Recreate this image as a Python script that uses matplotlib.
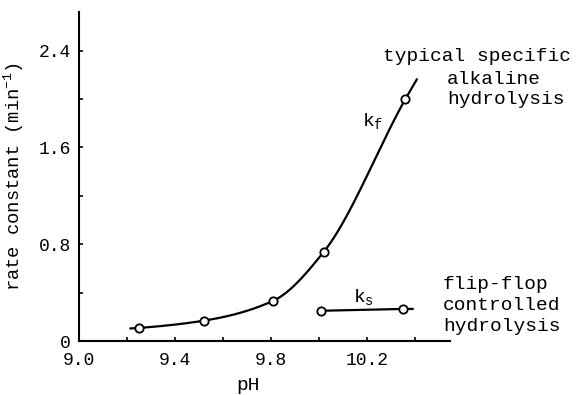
import numpy as np
import matplotlib
matplotlib.use("Agg")
import matplotlib.pyplot as plt

plt.rcParams['font.family'] = ['Liberation Mono', 'DejaVu Sans']
plt.rcParams['mathtext.fontset'] = 'custom'
plt.rcParams['mathtext.rm'] = 'Liberation Mono'
plt.rcParams['mathtext.it'] = 'Liberation Mono'

# kf : measured points and drawn curve ends
ph_f = [9.25, 9.52, 9.81, 10.02, 10.36]
k_f = [0.108, 0.168, 0.333, 0.737, 2.00]
ph_f_ends = [9.21, 10.41]
k_f_ends = [0.103, 2.17]

# ks : flip-flop controlled
ph_s = [10.01, 10.35]
k_s = [0.250, 0.265]
ph_s_end = 10.39

x_ticks = [9.0, 9.4, 9.8, 10.2]
y_ticks = [0, 0.8, 1.6, 2.4]


def pchip(x, y, xn):
    # monotone cubic hermite through the points
    x = np.asarray(x, float)
    y = np.asarray(y, float)
    h = np.diff(x)
    d = np.diff(y) / h
    m = np.zeros_like(y)
    for i in range(1, len(x) - 1):
        if d[i - 1] * d[i] > 0:
            w1 = 2 * h[i] + h[i - 1]
            w2 = h[i] + 2 * h[i - 1]
            m[i] = (w1 + w2) / (w1 / d[i - 1] + w2 / d[i])
    m[0] = d[0]
    m[-1] = d[-1]
    out = np.empty_like(xn)
    for j, xv in enumerate(xn):
        i = min(max(np.searchsorted(x, xv) - 1, 0), len(x) - 2)
        t = (xv - x[i]) / h[i]
        h00 = 2 * t**3 - 3 * t**2 + 1
        h10 = t**3 - 2 * t**2 + t
        h01 = -2 * t**3 + 3 * t**2
        h11 = t**3 - t**2
        out[j] = h00 * y[i] + h10 * h[i] * m[i] + h01 * y[i + 1] + h11 * h[i] * m[i + 1]
    return out


fig = plt.figure(figsize=(5.79, 3.95), dpi=100)
ax = fig.add_axes([0.1364, 0.1367, 0.6408, 0.833])

cx = [ph_f_ends[0]] + ph_f + [ph_f_ends[1]]
cy = [k_f_ends[0]] + k_f + [k_f_ends[1]]
xs = np.linspace(cx[0], cx[-1], 300)
ax.plot(xs, pchip(cx, cy, xs), color='black', lw=1.6, solid_capstyle='butt')
ax.plot(ph_f, k_f, 'o', ms=6, mfc='white', mec='black', mew=1.3)

ax.plot([ph_s[0], ph_s[1], ph_s_end], [k_s[0], k_s[1], k_s[1]], color='black', lw=1.6)
ax.plot(ph_s, k_s, 'o', ms=6, mfc='white', mec='black', mew=1.3)

ax.text(10.178, 1.78, r'k$\mathregular{_f}$', fontsize=14, ha='left', va='baseline')
ax.text(10.142, 0.323, r'k$\mathregular{_s}$', fontsize=14, ha='left', va='baseline')

ax.text(10.267, 2.351, 'typical specific', fontsize=14, ha='left', va='center', clip_on=False)
ax.text(10.533, 2.161, 'alkaline', fontsize=14, ha='left', va='center', clip_on=False)
ax.text(10.533, 1.995, 'hydrolysis', fontsize=14, ha='left', va='center', clip_on=False)
ax.text(10.517, 0.464, 'flip-flop', fontsize=14, ha='left', va='center', clip_on=False)
ax.text(10.517, 0.290, 'controlled', fontsize=14, ha='left', va='center', clip_on=False)
ax.text(10.517, 0.124, 'hydrolysis', fontsize=14, ha='left', va='center', clip_on=False)

ax.set_xlim(9.0, 10.546)
ax.set_ylim(0, 2.72)
ax.set_xticks(x_ticks)
ax.set_xticklabels(['9.0', '9.4', '9.8', '10.2'])
ax.set_xticks([9.2, 9.6, 10.0, 10.4], minor=True)
ax.set_yticks(y_ticks)
ax.set_yticklabels(['0', '0.8', '1.6', '2.4'])
ax.set_yticks([0.4, 1.2, 2.0], minor=True)
ax.tick_params(which='both', direction='in', length=3, width=1.2, labelsize=13)
ax.tick_params(axis='x', pad=8)
ax.tick_params(axis='y', pad=6)

for s in ['top', 'right']:
    ax.spines[s].set_visible(False)
for s in ['left', 'bottom']:
    ax.spines[s].set_linewidth(1.5)

ax.set_xlabel('pH', fontsize=14)
ax.xaxis.set_label_coords(0.456, -0.108)
ax.set_ylabel(r'rate constant (min$\mathregular{^{-1}}$)', fontsize=13.5)
ax.yaxis.set_label_coords(-0.143, 0.5)

fig.savefig('out.png', dpi=100)
